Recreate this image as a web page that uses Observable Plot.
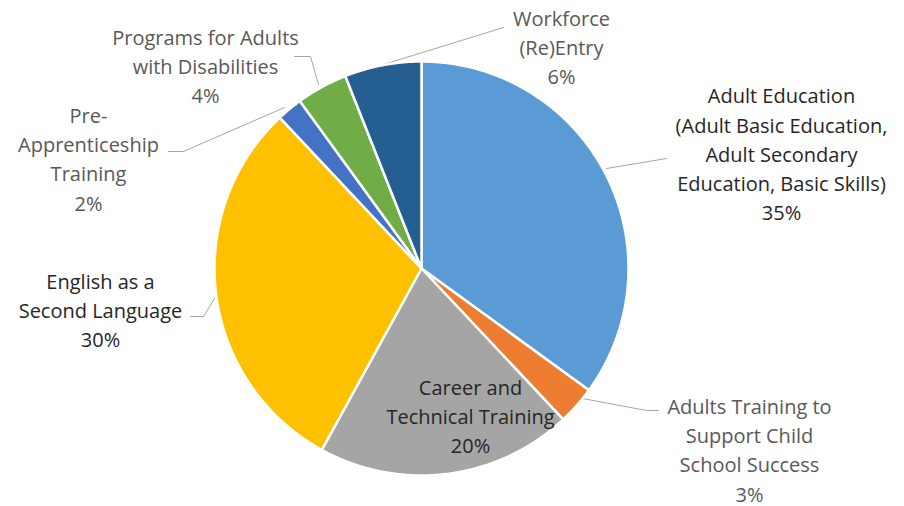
<!DOCTYPE html>
<html><head><meta charset="utf-8">
<script src="https://cdn.jsdelivr.net/npm/d3@7"></script>
<script src="https://cdn.jsdelivr.net/npm/@observablehq/plot@0.6"></script>
<style>body{margin:0;background:#fff;overflow:hidden} svg text{font-variant-ligatures:none}</style>
</head><body><div id="chart"></div>
<script>
// ---- data ----
const categories = [
  "Adult Education (Adult Basic Education, Adult Secondary Education, Basic Skills)",
  "Adults Training to Support Child School Success",
  "Career and Technical Training",
  "English as a Second Language",
  "Pre-Apprenticeship Training",
  "Programs for Adults with Disabilities",
  "Workforce (Re)Entry"
];
const values = [35, 3, 20, 30, 2, 4, 6];
const labelLines = [
  "Adult Education\n(Adult Basic Education,\nAdult Secondary\nEducation, Basic Skills)",
  "Adults Training to\nSupport Child\nSchool Success",
  "Career and\nTechnical Training",
  "English as a\nSecond Language",
  "Pre-\nApprenticeship\nTraining",
  "Programs for Adults\nwith Disabilities",
  "Workforce\n(Re)Entry"
];

// ---- styles / layout ----
const colors = ["#5B9BD5", "#ED7D31", "#A5A5A5", "#FFC000", "#4472C4", "#70AD47", "#255E91"];
const textColors = ["#262626", "#595959", "#262626", "#262626", "#595959", "#595959", "#595959"];
const W = 904, H = 506, cx = 421, cy = 268, R = 207;
const labelPos = [[781, 152], [749, 448], [470, 414], [100, 308], [88, 157], [205, 64], [561, 45]];
const leaders = [
  [[606, 168], [666, 158]],
  [[582, 398], [646, 410], [658, 410]],
  null,
  [[214, 298], [203, 316], [190, 316]],
  [[284, 107], [183, 151], [168, 151]],
  [[318, 84], [310, 56], [294, 56]],
  [[383, 64], [503, 27]]
];

// ---- build ----
const pie = d3.pie().sort(null).value(d => d.value).startAngle(0).endAngle(2 * Math.PI);
const rows = categories.map((c, i) => ({name: c, value: values[i], i}));
const arcs = pie(rows);
const slicePts = [];
arcs.forEach(a => {
  const n = Math.max(2, Math.ceil((a.endAngle - a.startAngle) / (Math.PI / 360)));
  slicePts.push({name: a.data.name, x: cx, y: cy});
  for (let k = 0; k <= n; k++) {
    const t = a.startAngle + (a.endAngle - a.startAngle) * k / n;
    slicePts.push({name: a.data.name, x: cx + R * Math.sin(t), y: cy - R * Math.cos(t)});
  }
  slicePts.push({name: a.data.name, x: cx, y: cy});
});
const leaderPts = [];
leaders.forEach((l, i) => { if (l) l.forEach(p => leaderPts.push({name: categories[i], x: p[0], y: p[1]})); });
const labels = rows.map((d, i) => ({
  name: d.name, text: `${labelLines[i]}\n${values[i]}%`,
  x: labelPos[i][0], y: labelPos[i][1], color: textColors[i]
}));

const chart = Plot.plot({
  width: W, height: H,
  margin: 0,
  x: {domain: [0, W], range: [0, W], axis: null},
  y: {domain: [0, H], range: [0, H], axis: null},
  color: {domain: categories, range: colors},
  style: {fontFamily: "'Open Sans', 'Liberation Sans', sans-serif", background: "white"},
  marks: [
    Plot.line(leaderPts, {x: "x", y: "y", z: "name", stroke: "#A6A6A6", strokeWidth: 1}),
    Plot.line(slicePts, {x: "x", y: "y", z: "name", fill: "name", stroke: "white", strokeWidth: 2.5, strokeLinejoin: "round"}),
    Plot.text(labels, {x: "x", y: "y", text: "text", fill: d => d.color, fontSize: 20, lineHeight: 1.46, textAnchor: "middle"})
  ]
});
document.getElementById("chart").appendChild(chart);
</script>
</body></html>
